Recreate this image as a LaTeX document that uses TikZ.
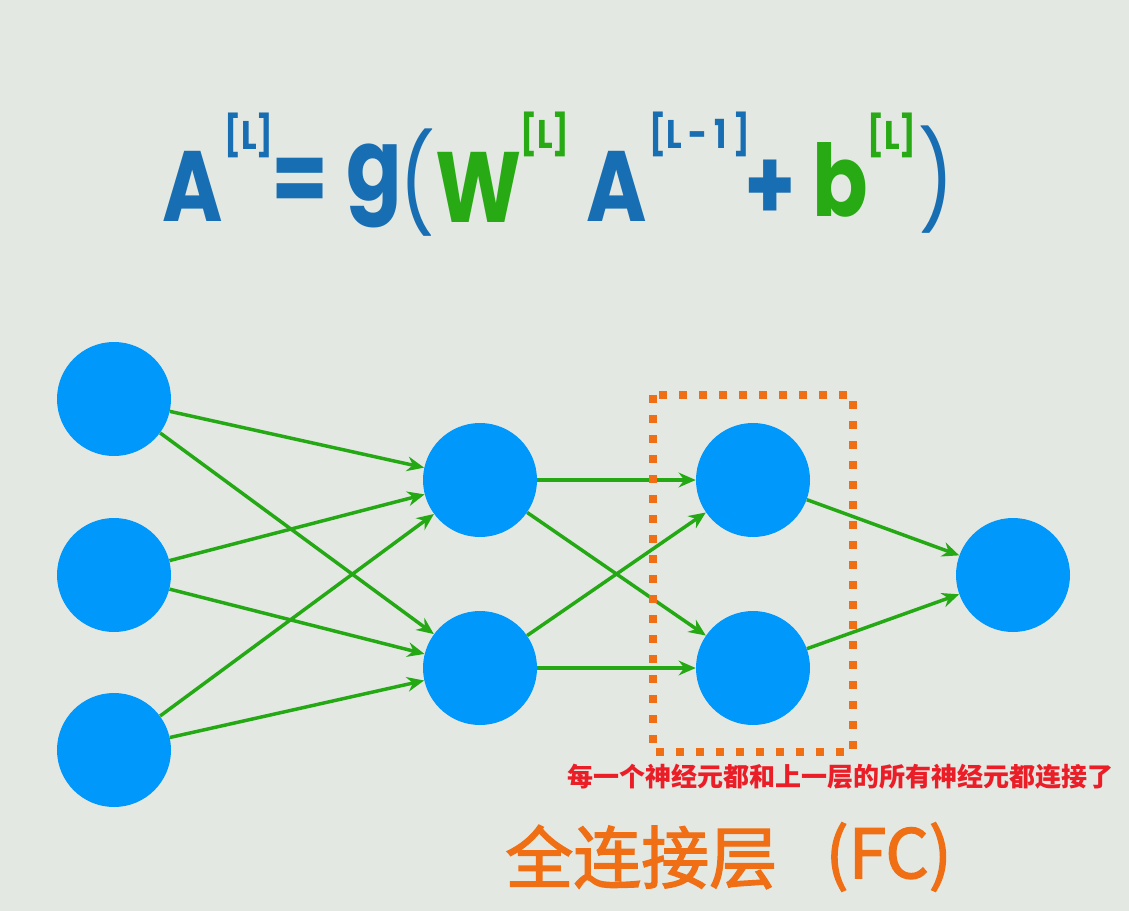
\documentclass[tikz,border=0pt]{standalone}
\usepackage{fontspec}
\newfontfamily\fmfont{Poppins}[FakeStretch=0.82]
\newfontfamily\cjk{Noto Sans CJK SC}
\newfontfamily\cjkfc{Noto Sans CJK SC}[FakeBold=2]
\usepackage{tikz}
\usetikzlibrary{arrows.meta,positioning}
\definecolor{bgcol}{RGB}{227,232,226}
\definecolor{nnblue}{RGB}{0,152,250}
\definecolor{nngreen}{RGB}{36,168,20}
\definecolor{fmblue}{RGB}{24,110,178}
\definecolor{fmgreen}{RGB}{40,170,20}
\definecolor{fcorange}{RGB}{240,110,20}
\definecolor{notered}{RGB}{235,30,40}

\tikzset{
  neuron/.style={circle,fill=nnblue,minimum size=85.5pt,inner sep=0pt},
  conn/.style={draw=nngreen,line width=2.6pt,-{Stealth[length=12.75pt,width=11pt]}},
  fcbox/.style={draw=fcorange,line width=6pt,dash pattern=on 6pt off 9pt},
  big/.style={font=\fmfont\fontsize{75}{75}\selectfont\bfseries,inner sep=0pt},
  paren/.style={font=\fmfont\fontsize{72}{72}\selectfont,inner sep=0pt},
  sup/.style={font=\fmfont\fontsize{30}{30}\selectfont\bfseries,inner sep=0pt},
  fctext/.style={font=\cjkfc\fontsize{51}{51}\selectfont,text=fcorange,inner sep=0pt}
}

\begin{document}
\begin{tikzpicture}[x=0.75pt,y=-0.75pt]
\fill[bgcol] (0,0) rectangle (1129,911);
\useasboundingbox (0,0) rectangle (1129,911);

% formula
\node[big,text=fmblue] (aL) at (193,186) {A};
\node[sup,text=fmblue] (aLs) at (249,135) {[L]};
\node[big,text=fmblue] (eq) at (300,186) {=};
\node[big,text=fmblue] (gf) at (374,186) {g};
\node[paren,text=fmblue] (lp) at (417,183) {(};
\node[big,text=fmgreen] (wL) at (479,187) {W};
\node[sup,text=fmgreen] (wLs) at (545,134) {[L]};
\node[big,text=fmblue] (aP) at (617,186) {A};
\node[sup,text=fmblue] (aPs) at (700,134) {[L\,-\,1\,]};
\node[big,text=fmblue] (pl) at (770,190) {+};
\node[big,text=fmgreen] (bL) at (840,180) {b};
\node[sup,text=fmgreen] (bLs) at (892,135) {[L]};
\node[paren,text=fmblue] (rp) at (936,180) {)};

% layers
\node[neuron] (x1) at (114,399) {};
\node[neuron] (x2) at (114,575) {};
\node[neuron] (x3) at (114,750) {};
\node[neuron] (h1) at (480,480) {};
\node[neuron] (h2) at (480,668) {};
\node[neuron] (f1) at (753,480) {};
\node[neuron] (f2) at (753,668) {};
\node[neuron] (y1) at (1013,575) {};

\draw[conn] (x1) -- (h1);
\draw[conn] (x1) -- (h2);
\draw[conn] (x2) -- (h1);
\draw[conn] (x2) -- (h2);
\draw[conn] (x3) -- (h1);
\draw[conn] (x3) -- (h2);
\draw[conn] (h1) -- (f1);
\draw[conn] (h1) -- (f2);
\draw[conn] (h2) -- (f1);
\draw[conn] (h2) -- (f2);
\draw[conn] (f1) -- (y1);
\draw[conn] (f2) -- (y1);

% fully connected block
\draw[fcbox] (653,395) rectangle (853,752);
\node[font=\cjk\bfseries\fontsize{19.5}{20}\selectfont,text=notered] (note) at (840,777) {每一个神经元都和上一层的所有神经元都连接了};
\node[fctext,anchor=west] (fc) at (505,857) {全连接层};
\node[fctext,anchor=east] (fcab) at (952,857) {(FC)};
\end{tikzpicture}
\end{document}
